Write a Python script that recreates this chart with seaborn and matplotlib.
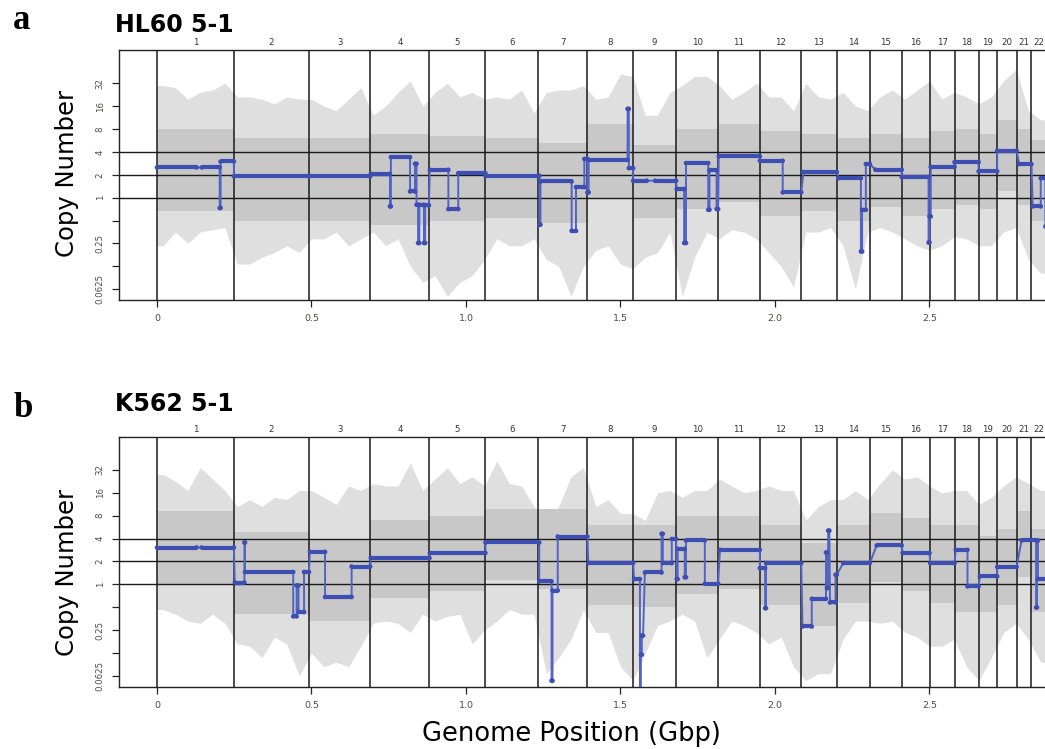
import numpy as np
import pandas as pd
import matplotlib
matplotlib.use("Agg")
import matplotlib.pyplot as plt
import matplotlib.transforms as mtransforms
import seaborn as sns

# ---------------- data ----------------
chrom_names = [str(i) for i in range(1, 23)]
chrom_len_mb = [249.25, 243.20, 198.02, 191.15, 180.92, 171.12, 159.14, 146.36,
                141.21, 135.53, 135.01, 133.85, 115.17, 107.35, 102.53, 90.35,
                81.20, 78.08, 59.13, 63.03, 48.13, 51.30]

xtick_vals = [0, 0.5, 1.0, 1.5, 2.0, 2.5]
xtick_labels = ["0", "0.5", "1.0", "1.5", "2.0", "2.5"]
ytick_log2 = [-4, -3, -2, -1, 0, 1, 2, 3, 4, 5]
ytick_labels = ["0.0625", "", "0.25", "", "1", "2", "4", "8", "16", "32"]
ref_lines_log2 = [0, 1, 2]

# probe-cloud envelope, 0.04 Gbp bins (log2 copy number)
bin_width_gbp = 0.04
hl60_upper = [4.9, 4.8, 4.3, 4.6, 4.7, 5.0, 4.4, 4.4, 4.3, 4.1,
              4.4, 4.3, 4.3, 4.0, 3.8, 4.3, 4.8, 3.6, 4.0, 4.6,
              5.1, 4.0, 4.6, 5.0, 4.4, 4.6, 4.3, 4.4, 4.3, 4.7,
              3.7, 4.6, 4.7, 4.7, 4.9, 4.3, 4.4, 5.4, 5.3, 3.6,
              3.6, 4.6, 4.9, 5.3, 5.3, 4.9, 4.3, 4.6, 5.0, 4.4,
              4.4, 3.8, 5.0, 4.4, 4.3, 4.6, 4.0, 3.8, 4.4, 4.7,
              4.3, 4.7, 5.1, 4.3, 4.6, 4.4, 4.1, 4.4, 5.1, 5.6,
              3.8, 3.4]
hl60_lower = [-2.1, -1.5, -2.0, -1.5, -1.4, -1.3, -2.9, -2.9, -2.6, -2.4,
              -2.1, -2.4, -1.8, -1.8, -1.5, -2.1, -1.8, -1.5, -2.1, -1.8,
              -3.0, -3.7, -3.4, -4.3, -3.7, -3.4, -2.7, -1.8, -2.1, -2.1,
              -1.8, -2.7, -3.0, -4.3, -3.0, -2.3, -2.1, -2.9, -3.1, -2.6,
              -2.4, -1.5, -4.3, -2.6, -1.5, -1.8, -1.4, -1.5, -1.8, -2.4,
              -3.0, -3.9, -1.5, -1.5, -1.3, -2.1, -4.0, -1.5, -1.3, -1.5,
              -1.8, -2.1, -2.3, -2.1, -1.7, -1.8, -2.1, -2.1, -1.5, -1.3,
              -2.7, -3.3]
k562_upper = [4.8, 4.5, 4.1, 5.1, 4.6, 4.1, 3.4, 3.7, 3.4, 3.8,
              3.7, 4.1, 4.1, 3.8, 3.5, 4.3, 4.1, 4.4, 4.3, 4.3,
              5.3, 4.1, 4.6, 5.1, 4.4, 4.7, 4.3, 5.4, 4.4, 4.3,
              3.4, 2.7, 3.4, 4.7, 5.1, 3.4, 3.7, 3.1, 3.1, 2.8,
              4.0, 4.1, 3.8, 4.1, 4.1, 4.6, 4.3, 4.0, 4.1, 4.3,
              4.1, 4.1, 2.8, 3.4, 3.7, 3.7, 4.1, 3.7, 4.4, 5.0,
              4.6, 4.7, 4.3, 4.0, 4.1, 4.1, 3.5, 3.8, 4.3, 4.7,
              4.4, 4.1]
k562_lower = [-1.1, -1.3, -1.6, -1.7, -1.3, -1.7, -2.6, -2.7, -3.2, -2.3,
              -2.6, -4.0, -3.0, -3.6, -3.4, -3.6, -2.7, -1.7, -1.6, -1.7,
              -2.1, -1.3, -1.6, -1.4, -1.3, -2.6, -2.0, -1.6, -1.1, -1.3,
              -1.3, -3.9, -3.2, -2.4, -1.1, -2.1, -2.1, -3.6, -4.2, -3.0,
              -1.8, -1.6, -1.3, -1.6, -3.2, -2.4, -1.6, -1.8, -2.1, -2.6,
              -2.3, -3.6, -4.2, -3.9, -3.9, -2.4, -1.6, -1.6, -1.7, -1.6,
              -2.1, -2.3, -2.7, -2.7, -2.4, -3.6, -4.2, -3.2, -2.1, -1.7,
              -2.4, -3.4]

# dense core of the probe cloud, per chromosome (log2)
hl60_core_hi = [3.0, 2.6, 2.6, 2.8, 2.7, 2.6, 2.4, 3.2, 2.3, 3.0, 3.2,
                2.9, 2.8, 2.6, 2.8, 2.6, 2.9, 3.0, 2.8, 3.4, 3.0, 2.5]
hl60_core_lo = [-0.6, -1.0, -1.0, -1.2, -1.0, -0.9, -1.1, 0.0, -0.9, -0.5, -0.2,
                -0.8, -0.6, -1.0, -0.4, -0.8, -0.5, -0.3, -0.5, 0.3, -0.3, -1.0]
k562_core_hi = [3.2, 2.3, 2.0, 2.8, 3.0, 3.3, 3.3, 2.6, 2.6, 3.0, 3.0,
                2.6, 1.8, 2.6, 3.1, 2.9, 2.6, 2.6, 2.1, 2.4, 3.2, 2.4]
k562_core_lo = [0.0, -1.3, -1.6, -0.6, -0.3, 0.2, -0.2, -0.9, -1.0, -0.4, -0.2,
                -0.9, -1.8, -0.8, 0.1, -0.3, -0.8, -1.2, -1.2, -0.9, 0.3, -1.2]

# segmentation (start Gbp, end Gbp, log2 copy number)
hl60_seg_start = [0.000, 0.145, 0.203, 0.206, 0.249, 0.492, 0.692, 0.754, 0.757, 0.819,
                  0.835, 0.840, 0.845, 0.849, 0.864, 0.868, 0.883, 0.943, 0.975, 1.063,
                  1.238, 1.241, 1.342, 1.356, 1.383, 1.393, 1.397, 1.523, 1.527, 1.541,
                  1.612, 1.682, 1.706, 1.712, 1.784, 1.788, 1.811, 1.818, 1.951, 2.025,
                  2.092, 2.205, 2.278, 2.282, 2.294, 2.325, 2.410, 2.497, 2.500, 2.504,
                  2.581, 2.659, 2.719, 2.790, 2.834, 2.860, 2.875]
hl60_seg_end = [0.128, 0.203, 0.206, 0.249, 0.492, 0.690, 0.754, 0.757, 0.819, 0.835,
                0.840, 0.845, 0.849, 0.864, 0.868, 0.880, 0.943, 0.975, 1.063, 1.238,
                1.241, 1.342, 1.356, 1.383, 1.393, 1.397, 1.523, 1.527, 1.541, 1.585,
                1.680, 1.706, 1.712, 1.784, 1.788, 1.811, 1.816, 1.951, 2.025, 2.085,
                2.200, 2.278, 2.282, 2.294, 2.307, 2.410, 2.497, 2.500, 2.504, 2.581,
                2.659, 2.719, 2.782, 2.830, 2.860, 2.875, 2.881]
hl60_seg_log2 = [1.32, 1.32, -0.45, 1.58, 0.93, 0.93, 1.04, -0.38, 1.77, 0.27,
                 1.48, -0.31, -1.98, -0.31, -1.98, -0.33, 1.22, -0.50, 1.07, 0.96,
                 -1.18, 0.71, -1.45, 0.46, 1.69, 0.23, 1.65, 3.88, 1.29, 0.74,
                 0.74, 0.38, -1.98, 1.51, -0.53, 1.19, -0.50, 1.80, 1.61, 0.23,
                 1.12, 0.85, -2.35, -0.53, 1.47, 1.22, 0.90, -1.96, -0.82, 1.34,
                 1.55, 1.15, 2.05, 1.47, -0.38, 0.85, -1.26]

k562_seg_start = [0.000, 0.145, 0.252, 0.283, 0.285, 0.441, 0.452, 0.458, 0.476, 0.495,
                  0.544, 0.630, 0.692, 0.883, 1.063, 1.237, 1.277, 1.280, 1.297, 1.396,
                  1.544, 1.563, 1.566, 1.569, 1.579, 1.633, 1.637, 1.666, 1.682, 1.685,
                  1.708, 1.712, 1.773, 1.822, 1.951, 1.968, 1.971, 2.089, 2.119, 2.165,
                  2.168, 2.172, 2.178, 2.196, 2.221, 2.329, 2.413, 2.502, 2.585, 2.623,
                  2.663, 2.719, 2.798, 2.845, 2.848, 2.851]
k562_seg_end = [0.128, 0.249, 0.283, 0.285, 0.441, 0.452, 0.458, 0.476, 0.492, 0.544,
                0.630, 0.690, 0.882, 1.063, 1.237, 1.277, 1.280, 1.297, 1.393, 1.541,
                1.563, 1.566, 1.569, 1.573, 1.633, 1.637, 1.666, 1.680, 1.685, 1.708,
                1.712, 1.773, 1.816, 1.951, 1.968, 1.971, 2.085, 2.119, 2.165, 2.168,
                2.172, 2.176, 2.196, 2.200, 2.307, 2.410, 2.500, 2.581, 2.623, 2.659,
                2.719, 2.782, 2.845, 2.848, 2.851, 2.881]
k562_seg_log2 = [1.61, 1.61, 0.08, 1.83, 0.54, -1.40, -0.05, -1.21, 0.54, 1.42,
                 -0.55, 0.78, 1.15, 1.37, 1.83, 0.13, -4.21, -0.27, 2.09, 0.93,
                 0.23, -4.80, -3.07, -2.24, 0.52, 2.21, 0.93, 1.98, 0.23, 1.55,
                 0.31, 1.92, 0.03, 1.51, 0.71, -1.04, 0.93, -1.84, -0.63, 1.39,
                 -0.16, 2.35, -0.79, 0.42, 0.93, 1.70, 1.37, 0.93, 1.51, -0.09,
                 0.35, 0.76, 1.92, -1.01, 1.92, 0.23]

# ---------------- style ----------------
sns.set_theme(style="white")
plt.rcParams["font.family"] = ["DejaVu Sans"]
plt.rcParams["text.color"] = "black"

W, H = 1045, 749
fig = plt.figure(figsize=(W / 100, H / 100), dpi=100)

SEG_COLOR = "#3d4fb3"
LINK_COLOR = "#5263c4"
OUTER_GREY = "#dfdfdf"
CORE_GREY = "#c8c8c8"
TICK_COLOR = "#514a44"

bounds = np.concatenate([[0.0], np.cumsum(chrom_len_mb) / 1000.0])
n_bins = len(hl60_upper)
bin_center = (np.arange(n_bins) + 0.5) * bin_width_gbp

XL = (-0.1238, 3.2194)
YL = (-4.47, 6.45)


def px_axes(left, top, right, bottom):
    return [left / W, 1 - bottom / H, (right - left) / W, (bottom - top) / H]


def draw_panel(ax, upper, lower, core_hi, core_lo, s, e, v):
    # probe cloud
    xf = np.linspace(0.0, 2.95, 1200)
    up = np.interp(xf, bin_center, upper)
    lo = np.interp(xf, bin_center, lower)
    ax.fill_between(xf, lo, up, color=OUTER_GREY, lw=0, zorder=1)
    for i in range(len(core_hi)):
        ax.fill_between([bounds[i], bounds[i + 1]], core_lo[i], core_hi[i],
                        color=CORE_GREY, lw=0, zorder=1.2)
    ax.fill_between([bounds[-1], 2.95], -0.9, 2.6, color=CORE_GREY, lw=0, zorder=1.2)

    # reference lines and chromosome boundaries
    for yv in ref_lines_log2:
        ax.axhline(yv, color="#1a1a1a", lw=1.0, zorder=2)
    for b in bounds:
        ax.axvline(b, color="#1a1a1a", lw=1.1, zorder=2)

    # segmentation path
    path_x, path_y = [], []
    for a, b, c in zip(s, e, v):
        path_x += [a, b]
        path_y += [c, c]
    df = pd.DataFrame({"x": path_x, "y": path_y})
    sns.lineplot(data=df, x="x", y="y", sort=False, estimator=None,
                 color=LINK_COLOR, lw=1.4, ax=ax, zorder=3)
    ax.hlines(v, s, e, color=SEG_COLOR, lw=3.0, zorder=4)
    dots = pd.DataFrame({"x": list(s) + list(e), "y": list(v) + list(v)})
    sns.scatterplot(data=dots, x="x", y="y", color=SEG_COLOR, s=11,
                    edgecolor="none", ax=ax, zorder=5)

    ax.set_xlim(*XL)
    ax.set_ylim(*YL)
    ax.set_xlabel("")
    ax.set_ylabel("")
    ax.set_xticks(xtick_vals)
    ax.set_xticklabels(xtick_labels, fontsize=6.8, color=TICK_COLOR)
    ax.set_yticks(ytick_log2)
    ax.set_yticklabels(ytick_labels, fontsize=6.2, color=TICK_COLOR,
                       rotation=90, va="center")
    ax.tick_params(axis="x", direction="out", length=5, width=0.9,
                   color="#222222", pad=5, bottom=True)
    ax.tick_params(axis="y", direction="out", length=5, width=0.9,
                   color="#222222", pad=5, left=True)
    for sp in ax.spines.values():
        sp.set_color("#222222")
        sp.set_linewidth(1.0)

    trans = mtransforms.blended_transform_factory(ax.transData, ax.transAxes)
    for i, name in enumerate(chrom_names):
        mid = 0.5 * (bounds[i] + bounds[i + 1])
        ax.text(mid, 1.012, name, transform=trans, ha="center", va="bottom",
                fontsize=6.2, color="#333333", clip_on=False)


ax1 = fig.add_axes(px_axes(118.7, 50, 1151.8, 300))
draw_panel(ax1, hl60_upper, hl60_lower, hl60_core_hi, hl60_core_lo,
           hl60_seg_start, hl60_seg_end, hl60_seg_log2)

ax2 = fig.add_axes(px_axes(118.7, 436.7, 1151.8, 686.7))
draw_panel(ax2, k562_upper, k562_lower, k562_core_hi, k562_core_lo,
           k562_seg_start, k562_seg_end, k562_seg_log2)


def ftext(x, y, s, **kw):
    fig.text(x / W, 1 - y / H, s, **kw)


ftext(13, 29, "a", fontsize=25, fontweight="bold", family="Liberation Serif",
      va="baseline", ha="left", color="black")
ftext(13, 417, "b", fontsize=25, fontweight="bold", family="Liberation Serif",
      va="baseline", ha="left", color="black")
ftext(115, 32, "HL60 5-1", fontsize=17, fontweight="bold", va="baseline",
      ha="left", color="black")
ftext(115, 411, "K562 5-1", fontsize=17, fontweight="bold", va="baseline",
      ha="left", color="black")
ftext(67, 173, "Copy Number", fontsize=17.5, rotation=90, va="center",
      ha="center", color="black")
ftext(67, 572, "Copy Number", fontsize=17.5, rotation=90, va="center",
      ha="center", color="black")
ftext(571, 741, "Genome Position (Gbp)", fontsize=18.5, va="baseline",
      ha="center", color="black")

fig.savefig("out.png", dpi=100)
